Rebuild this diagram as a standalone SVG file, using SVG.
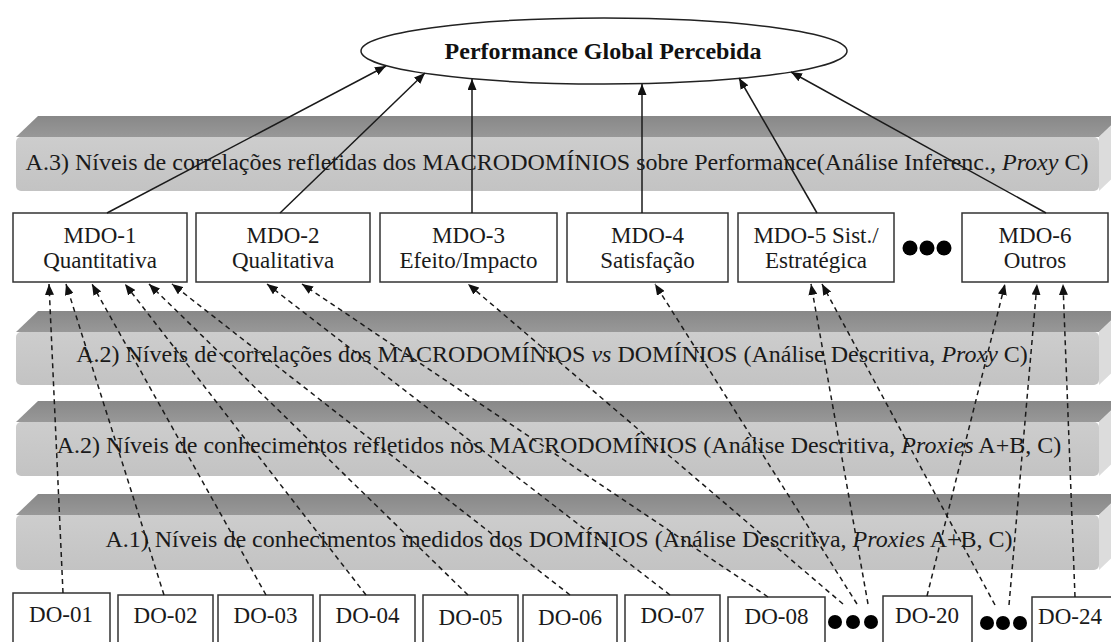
<svg xmlns="http://www.w3.org/2000/svg" width="1111" height="642" viewBox="0 0 1111 642">
<style>
text{font-family:'Liberation Serif','DejaVu Serif',serif}
.bandtxt{font-size:24px;fill:#1a1a1a;text-anchor:middle}
.boxtxt{font-size:23px;fill:#1a1a1a;text-anchor:middle}
.title{font-size:24px;font-weight:bold;fill:#111;text-anchor:middle}
.box{fill:#fff;stroke:#333;stroke-width:1.5}
.front{fill:url(#gFront)}
.top{fill:url(#gTop)}
.side{fill:#dcdcdc}
.solid{stroke:#1a1a1a;stroke-width:1.5;fill:none;marker-end:url(#ah)}
.dash{stroke:#1a1a1a;stroke-width:1.5;fill:none;stroke-dasharray:5 4;marker-end:url(#ah)}
.dot{fill:#000}
</style>
<defs>
<linearGradient id="gFront" x1="0" y1="0" x2="0" y2="1">
<stop offset="0" stop-color="#cdcdcd"/>
<stop offset="1" stop-color="#c3c3c3"/>
</linearGradient>
<linearGradient id="gTop" x1="0" y1="0" x2="0" y2="1">
<stop offset="0" stop-color="#888"/>
<stop offset="1" stop-color="#989898"/>
</linearGradient>
<marker id="ah" markerUnits="userSpaceOnUse" markerWidth="11" markerHeight="9" refX="11" refY="4.5" orient="auto">
<path d="M0,0 L11,4.5 L0,9 z" fill="#111"/>
</marker>
</defs>

<g id="band-a3">
<polygon class="top" points="16,137 38,116 1121,116 1099,137"/>
<polygon class="side" points="1099,137 1121,116 1121,170 1099,191"/>
<rect class="front" x="16" y="137" width="1083" height="54" rx="5"/>
<text class="bandtxt" x="557" y="170">A.3) Níveis de correlações refletidas dos MACRODOMÍNIOS sobre Performance(Análise Inferenc., <tspan font-style="italic">Proxy</tspan> C)</text>
</g>
<g id="band-a2-corr">
<polygon class="top" points="16,332 38,311 1121,311 1099,332"/>
<polygon class="side" points="1099,332 1121,311 1121,364 1099,385"/>
<rect class="front" x="16" y="332" width="1083" height="53" rx="5"/>
<text class="bandtxt" x="552" y="362">A.2) Níveis de correlações dos MACRODOMÍNIOS <tspan font-style="italic">vs</tspan> DOMÍNIOS (Análise Descritiva, <tspan font-style="italic">Proxy</tspan> C)</text>
</g>
<g id="band-a2-conh">
<polygon class="top" points="16,422 38,401 1121,401 1099,422"/>
<polygon class="side" points="1099,422 1121,401 1121,455 1099,476"/>
<rect class="front" x="16" y="422" width="1083" height="54" rx="5"/>
<text class="bandtxt" x="559" y="453">A.2) Níveis de conhecimentos refletidos nos MACRODOMÍNIOS (Análise Descritiva, <tspan font-style="italic">Proxies</tspan> A+B, C)</text>
</g>
<g id="band-a1">
<polygon class="top" points="16,515 38,494 1121,494 1099,515"/>
<polygon class="side" points="1099,515 1121,494 1121,549 1099,570"/>
<rect class="front" x="16" y="515" width="1083" height="55" rx="5"/>
<text class="bandtxt" x="559" y="547">A.1) Níveis de conhecimentos medidos dos DOMÍNIOS (Análise Descritiva, <tspan font-style="italic">Proxies</tspan> A+B, C)</text>
</g>

<g id="perf">
<ellipse cx="604" cy="51" rx="243" ry="33" fill="#fff" stroke="#222" stroke-width="1.5"/>
<text class="title" x="603" y="59">Performance Global Percebida</text>
</g>

<g id="mdo-1"><rect class="box" x="13" y="213" width="174" height="69"/><text class="boxtxt" x="100" y="243">MDO-1</text><text class="boxtxt" x="100" y="268">Quantitativa</text></g>
<g id="mdo-2"><rect class="box" x="196" y="213" width="174" height="69"/><text class="boxtxt" x="283" y="243">MDO-2</text><text class="boxtxt" x="283" y="268">Qualitativa</text></g>
<g id="mdo-3"><rect class="box" x="380" y="213" width="177" height="69"/><text class="boxtxt" x="468.5" y="243">MDO-3</text><text class="boxtxt" x="468.5" y="268">Efeito/Impacto</text></g>
<g id="mdo-4"><rect class="box" x="567" y="213" width="161" height="69"/><text class="boxtxt" x="647.5" y="243">MDO-4</text><text class="boxtxt" x="647.5" y="268">Satisfação</text></g>
<g id="mdo-5"><rect class="box" x="738" y="213" width="156" height="69"/><text class="boxtxt" x="816" y="243">MDO-5 Sist./</text><text class="boxtxt" x="816" y="268">Estratégica</text></g>
<g id="mdo-dots"><circle class="dot" cx="910" cy="248" r="7.5"/><circle class="dot" cx="927" cy="248" r="7.5"/><circle class="dot" cx="944" cy="248" r="7.5"/></g>
<g id="mdo-6"><rect class="box" x="962" y="213" width="146" height="69"/><text class="boxtxt" x="1035" y="243">MDO-6</text><text class="boxtxt" x="1035" y="268">Outros</text></g>

<g id="do-01"><rect class="box" x="13" y="593" width="97" height="60"/><text class="boxtxt" x="61" y="622">DO-01</text></g>
<g id="do-02"><rect class="box" x="118" y="595" width="95" height="60"/><text class="boxtxt" x="165.5" y="623">DO-02</text></g>
<g id="do-03"><rect class="box" x="218" y="595" width="95" height="60"/><text class="boxtxt" x="265.5" y="623">DO-03</text></g>
<g id="do-04"><rect class="box" x="320" y="595" width="95" height="60"/><text class="boxtxt" x="367.5" y="623">DO-04</text></g>
<g id="do-05"><rect class="box" x="423" y="595" width="95" height="60"/><text class="boxtxt" x="470.5" y="625">DO-05</text></g>
<g id="do-06"><rect class="box" x="523" y="595" width="94" height="60"/><text class="boxtxt" x="570" y="625">DO-06</text></g>
<g id="do-07"><rect class="box" x="625" y="595" width="95" height="60"/><text class="boxtxt" x="672.5" y="623">DO-07</text></g>
<g id="do-08"><rect class="box" x="728" y="597" width="97" height="60"/><text class="boxtxt" x="776.5" y="624">DO-08</text></g>
<g id="do-dots-1"><circle class="dot" cx="835" cy="622" r="7"/><circle class="dot" cx="853" cy="622" r="7"/><circle class="dot" cx="871" cy="622" r="7"/></g>
<g id="do-20"><rect class="box" x="883" y="596" width="89" height="60"/><text class="boxtxt" x="927" y="623">DO-20</text></g>
<g id="do-dots-2"><circle class="dot" cx="987" cy="623" r="7"/><circle class="dot" cx="1003" cy="623" r="7"/><circle class="dot" cx="1020" cy="623" r="7"/></g>
<g id="do-24"><rect class="box" x="1032" y="597" width="95" height="60"/><text class="boxtxt" x="1070" y="624">DO-24</text></g>

<g id="connectors">
<line class="solid" x1="107" y1="213" x2="386" y2="66"/>
<line class="solid" x1="280" y1="213" x2="425" y2="73"/>
<line class="solid" x1="472" y1="213" x2="472" y2="79"/>
<line class="solid" x1="642" y1="213" x2="642" y2="84"/>
<line class="solid" x1="817" y1="213" x2="739" y2="78"/>
<line class="solid" x1="1046" y1="213" x2="791" y2="72"/>
<line class="dash" x1="63" y1="593" x2="49" y2="284"/>
<line class="dash" x1="164" y1="595" x2="66" y2="284"/>
<line class="dash" x1="266" y1="595" x2="92" y2="284"/>
<line class="dash" x1="366" y1="595" x2="125" y2="284"/>
<line class="dash" x1="468" y1="595" x2="149" y2="284"/>
<line class="dash" x1="570" y1="595" x2="172" y2="284"/>
<line class="dash" x1="670" y1="595" x2="267" y2="284"/>
<line class="dash" x1="768" y1="597" x2="302" y2="284"/>
<line class="dash" x1="843" y1="604" x2="468" y2="284"/>
<line class="dash" x1="857" y1="604" x2="655" y2="284"/>
<line class="dash" x1="868" y1="604" x2="811" y2="284"/>
<line class="dash" x1="927" y1="596" x2="1005" y2="284"/>
<line class="dash" x1="995" y1="605" x2="822" y2="284"/>
<line class="dash" x1="1009" y1="605" x2="1037" y2="284"/>
<line class="dash" x1="1075" y1="597" x2="1063" y2="284"/>
</g>
</svg>
